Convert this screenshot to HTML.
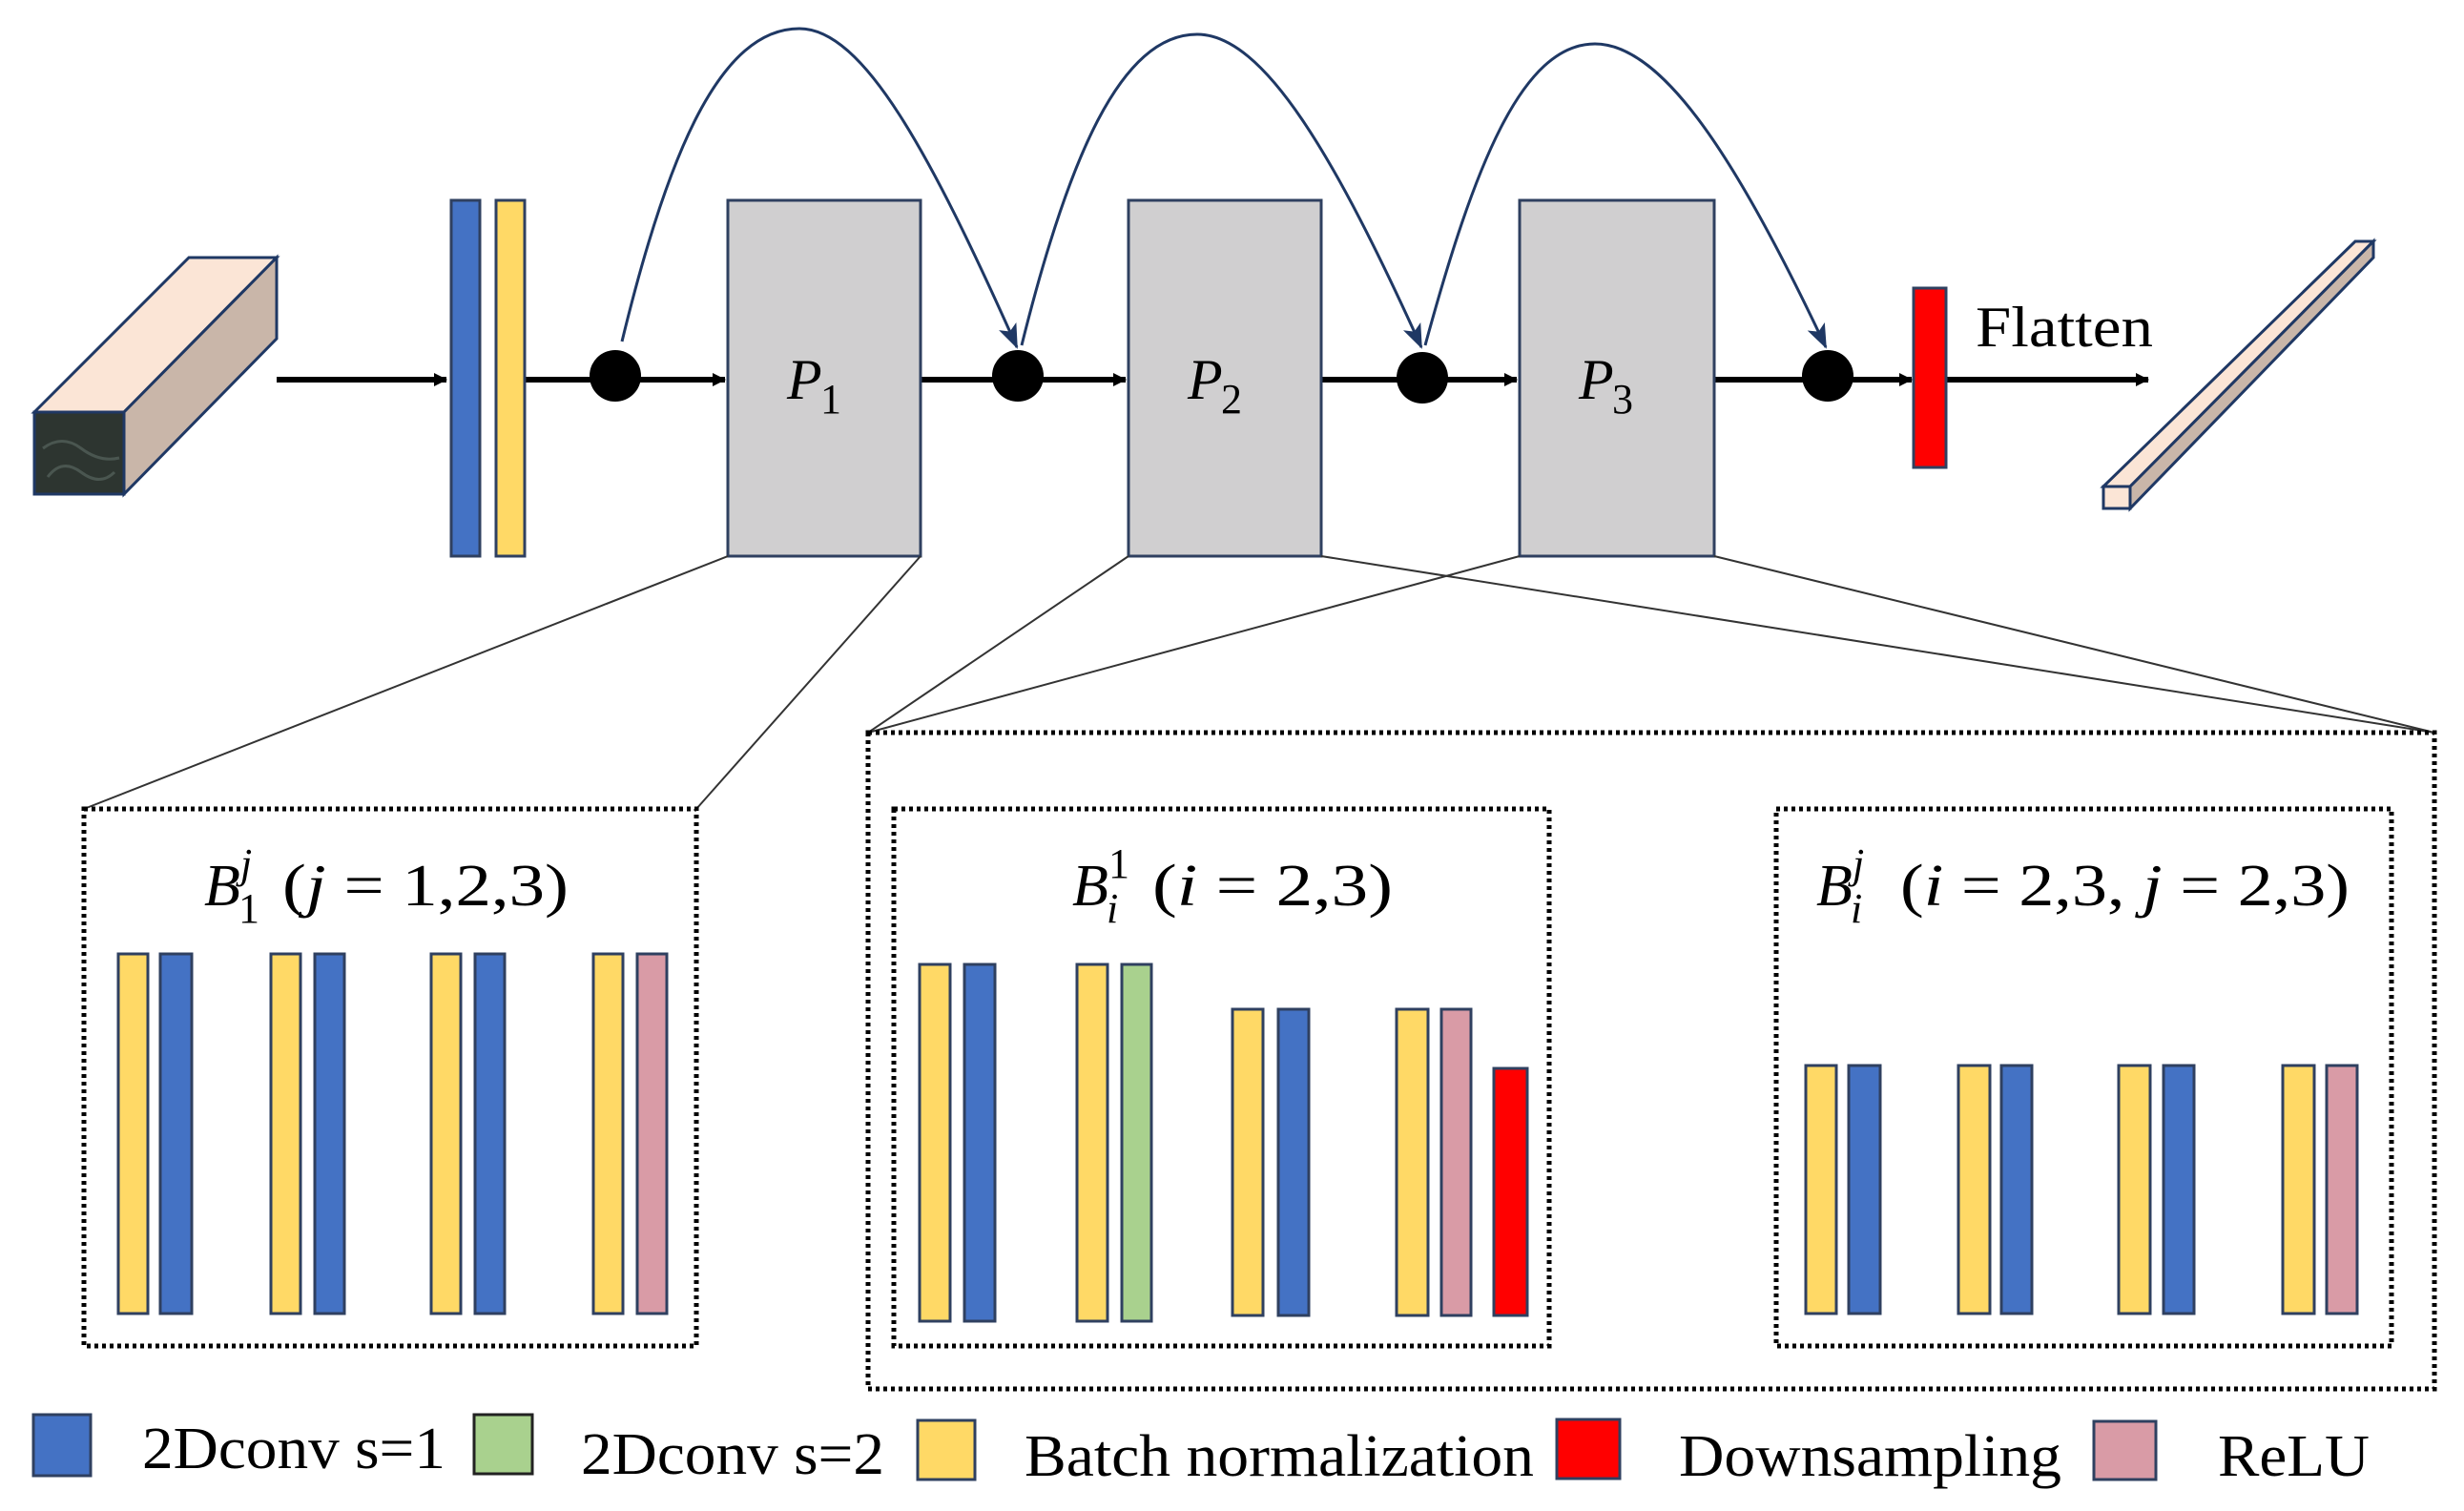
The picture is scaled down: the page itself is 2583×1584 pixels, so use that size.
<!DOCTYPE html>
<html><head><meta charset="utf-8"><style>html,body{margin:0;padding:0;background:#fff}svg{display:block}</style></head>
<body>
<svg width="2583" height="1584" viewBox="0 0 2583 1584" xmlns="http://www.w3.org/2000/svg">
<defs>
<marker id="ah" markerWidth="14" markerHeight="14" refX="13" refY="7" orient="auto" markerUnits="userSpaceOnUse" viewBox="0 0 14 14"><path d="M0,0 L14,7 L0,14 z" fill="#000"/></marker>
<marker id="ab" markerWidth="26" markerHeight="26" refX="24" refY="13" orient="auto" markerUnits="userSpaceOnUse" viewBox="0 0 26 26"><path d="M0,3 L26,13 L0,23 L6,13 z" fill="#1f3864"/></marker>
</defs>
<g font-family="'Liberation Serif', serif">
<!-- input block -->
<polygon points="36,432 198,270 290,270 130,432" fill="#fbe5d6" stroke="#1f3864" stroke-width="3"/>
<polygon points="130,432 290,270 290,355 130,518" fill="#c9b6a9" stroke="#1f3864" stroke-width="3"/>
<rect x="36" y="432" width="94" height="86" fill="#2d3530" stroke="#1f3864" stroke-width="3"/>
<path d="M45,470 q20,-15 40,0 t40,10 M50,500 q15,-20 35,-5 t35,0" stroke="#4a5650" stroke-width="3" fill="none"/>

<!-- main line -->
<line x1="290" y1="398" x2="468" y2="398" stroke="#000" stroke-width="6" marker-end="url(#ah)"/>
<line x1="550" y1="398" x2="760" y2="398" stroke="#000" stroke-width="6" marker-end="url(#ah)"/>
<line x1="965" y1="398" x2="1180" y2="398" stroke="#000" stroke-width="6" marker-end="url(#ah)"/>
<line x1="1385" y1="398" x2="1590" y2="398" stroke="#000" stroke-width="6" marker-end="url(#ah)"/>
<line x1="1797" y1="398" x2="2004" y2="398" stroke="#000" stroke-width="6" marker-end="url(#ah)"/>
<line x1="2040" y1="398" x2="2252" y2="398" stroke="#000" stroke-width="6" marker-end="url(#ah)"/>

<rect x="473" y="210" width="30" height="373" fill="#4472c4" stroke="#2f4060" stroke-width="3"/>
<rect x="520" y="210" width="30" height="373" fill="#ffd966" stroke="#2f4060" stroke-width="3"/>

<rect x="763" y="210" width="202" height="373" fill="#d0cfd0" stroke="#2f4060" stroke-width="3"/>
<rect x="1183" y="210" width="202" height="373" fill="#d0cfd0" stroke="#2f4060" stroke-width="3"/>
<rect x="1593" y="210" width="204" height="373" fill="#d0cfd0" stroke="#2f4060" stroke-width="3"/>

<text x="825" y="418" font-size="60" font-style="italic">P</text><text x="860" y="433" font-size="44">1</text>
<text x="1245" y="418" font-size="60" font-style="italic">P</text><text x="1280" y="433" font-size="44">2</text>
<text x="1655" y="418" font-size="60" font-style="italic">P</text><text x="1690" y="433" font-size="44">3</text>

<ellipse cx="645" cy="394" rx="27" ry="27" fill="#000"/>
<ellipse cx="1067" cy="394" rx="27" ry="27" fill="#000"/>
<ellipse cx="1491" cy="396" rx="27" ry="27" fill="#000"/>
<ellipse cx="1916" cy="394" rx="27" ry="27" fill="#000"/>

<!-- skip arcs -->
<path d="M652,358 C700,160 755,30 838,30 C905,30 975,160 1066,364" fill="none" stroke="#1f3864" stroke-width="3" marker-end="url(#ab)"/>
<path d="M1071,362 C1120,165 1175,36 1255,36 C1325,36 1400,165 1490,364" fill="none" stroke="#1f3864" stroke-width="3" marker-end="url(#ab)"/>
<path d="M1494,362 C1545,175 1595,46 1672,46 C1745,46 1825,175 1914,364" fill="none" stroke="#1f3864" stroke-width="3" marker-end="url(#ab)"/>

<rect x="2006" y="302" width="34" height="188" fill="#ff0000" stroke="#2f4060" stroke-width="3"/>
<text x="2071" y="363" font-size="60" textLength="186" lengthAdjust="spacingAndGlyphs">Flatten</text>

<!-- output rod -->
<polygon points="2205,510 2469,253 2488,253 2233,510" fill="#fbe5d6" stroke="#1f3864" stroke-width="3"/>
<polygon points="2233,510 2488,253 2488,270 2233,533" fill="#c9b6a9" stroke="#1f3864" stroke-width="3"/>
<rect x="2205" y="510" width="28" height="23" fill="#fbe5d6" stroke="#1f3864" stroke-width="3"/>

<!-- zoom lines -->
<g stroke="#333" stroke-width="2">
<line x1="763" y1="583" x2="88" y2="848"/>
<line x1="965" y1="583" x2="730" y2="848"/>
<line x1="1183" y1="583" x2="910" y2="768"/>
<line x1="1593" y1="583" x2="910" y2="768"/>
<line x1="1385" y1="583" x2="2552" y2="768"/>
<line x1="1797" y1="583" x2="2552" y2="768"/>
</g>

<g fill="none" stroke="#000" stroke-width="5" stroke-dasharray="4,4">
<rect x="88" y="848" width="642" height="563"/>
<rect x="910" y="768" width="1642" height="688"/>
<rect x="937" y="848" width="687" height="563"/>
<rect x="1862" y="848" width="645" height="563"/>
</g>

<!-- titles -->
<g font-size="62">
<text x="214" y="949" font-style="italic">B</text><text x="252" y="920" font-size="44" font-style="italic">j</text><text x="250" y="967" font-size="44">1</text>
<text x="296" y="949" textLength="300" lengthAdjust="spacingAndGlyphs">(<tspan font-style="italic">j</tspan> = 1,2,3)</text>

<text x="1124" y="949" font-style="italic">B</text><text x="1162" y="920" font-size="44">1</text><text x="1160" y="967" font-size="44" font-style="italic">i</text>
<text x="1208" y="949" textLength="252" lengthAdjust="spacingAndGlyphs">(<tspan font-style="italic">i</tspan> = 2,3)</text>

<text x="1904" y="949" font-style="italic">B</text><text x="1942" y="920" font-size="44" font-style="italic">j</text><text x="1940" y="967" font-size="44" font-style="italic">i</text>
<text x="1992" y="949" textLength="471" lengthAdjust="spacingAndGlyphs">(<tspan font-style="italic">i</tspan> = 2,3, <tspan font-style="italic">j</tspan> = 2,3)</text>
</g>

<!-- bars -->
<g stroke="#2f4060" stroke-width="3">
<rect x="124" y="1000" width="31" height="377" fill="#ffd966"/>
<rect x="168" y="1000" width="33" height="377" fill="#4472c4"/>
<rect x="284" y="1000" width="31" height="377" fill="#ffd966"/>
<rect x="330" y="1000" width="31" height="377" fill="#4472c4"/>
<rect x="452" y="1000" width="31" height="377" fill="#ffd966"/>
<rect x="498" y="1000" width="31" height="377" fill="#4472c4"/>
<rect x="622" y="1000" width="31" height="377" fill="#ffd966"/>
<rect x="668" y="1000" width="31" height="377" fill="#d99ba6"/>

<rect x="964" y="1011" width="32" height="374" fill="#ffd966"/>
<rect x="1011" y="1011" width="32" height="374" fill="#4472c4"/>
<rect x="1129" y="1011" width="32" height="374" fill="#ffd966"/>
<rect x="1176" y="1011" width="31" height="374" fill="#a9d18e"/>
<rect x="1292" y="1058" width="32" height="321" fill="#ffd966"/>
<rect x="1340" y="1058" width="32" height="321" fill="#4472c4"/>
<rect x="1464" y="1058" width="33" height="321" fill="#ffd966"/>
<rect x="1511" y="1058" width="31" height="321" fill="#d99ba6"/>
<rect x="1566" y="1120" width="35" height="259" fill="#ff0000"/>

<rect x="1893" y="1117" width="32" height="260" fill="#ffd966"/>
<rect x="1938" y="1117" width="33" height="260" fill="#4472c4"/>
<rect x="2053" y="1117" width="33" height="260" fill="#ffd966"/>
<rect x="2098" y="1117" width="32" height="260" fill="#4472c4"/>
<rect x="2221" y="1117" width="33" height="260" fill="#ffd966"/>
<rect x="2268" y="1117" width="32" height="260" fill="#4472c4"/>
<rect x="2393" y="1117" width="33" height="260" fill="#ffd966"/>
<rect x="2439" y="1117" width="32" height="260" fill="#d99ba6"/>
</g>

<!-- legend -->
<rect x="35" y="1483" width="60" height="64" fill="#4472c4" stroke="#2f4060" stroke-width="3"/>
<rect x="497" y="1483" width="61" height="62" fill="#a9d18e" stroke="#222" stroke-width="3"/>
<rect x="962" y="1489" width="60" height="62" fill="#ffd966" stroke="#2f4060" stroke-width="3"/>
<rect x="1632" y="1488" width="66" height="62" fill="#ff0000" stroke="#2f4060" stroke-width="3"/>
<rect x="2195" y="1490" width="65" height="61" fill="#d99ba6" stroke="#2f4060" stroke-width="3"/>
<g font-size="62">
<text x="149" y="1539" textLength="318" lengthAdjust="spacingAndGlyphs">2Dconv s=1</text>
<text x="609" y="1545" textLength="318" lengthAdjust="spacingAndGlyphs">2Dconv s=2</text>
<text x="1074" y="1547" textLength="534" lengthAdjust="spacingAndGlyphs">Batch normalization</text>
<text x="1760" y="1547" textLength="401" lengthAdjust="spacingAndGlyphs">Downsampling</text>
<text x="2325" y="1547" textLength="159" lengthAdjust="spacingAndGlyphs">ReLU</text>
</g>
</g>
</svg>
</body></html>
